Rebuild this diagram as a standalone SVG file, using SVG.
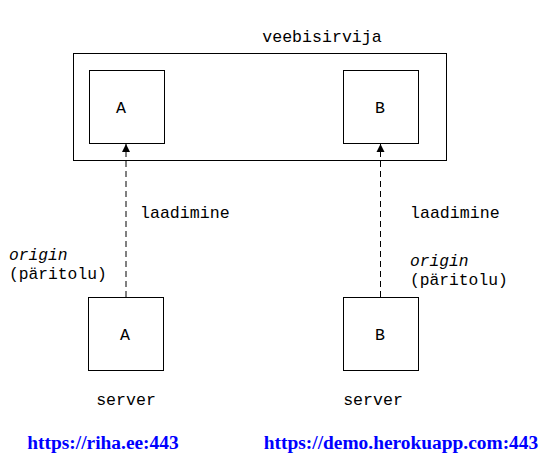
<svg xmlns="http://www.w3.org/2000/svg" width="559" height="471" viewBox="0 0 559 471">
<style>
.box{fill:#fff;stroke:#000;stroke-width:1}
.t{font-family:"Liberation Mono","Courier New",monospace;font-size:16.6px;fill:#000}
.s{font-size:16.3px}
.i{font-style:italic}
.u{font-family:"Liberation Serif","Times New Roman",serif;font-weight:bold;font-size:19.4px;fill:#00f}
.c{stroke:#000;stroke-width:1;stroke-dasharray:6,4;fill:none}
</style>
<defs>
<marker id="ah" viewBox="0 0 8 10" refX="8" refY="5" markerWidth="8" markerHeight="10" markerUnits="userSpaceOnUse" orient="auto">
<path d="M0,1 L8,5 L0,9 Z" fill="#000"/>
</marker>
</defs>
<rect width="559" height="471" fill="#fff"/>
<g id="browser">
<rect class="box" x="73.5" y="53.5" width="373" height="107"/>
<text class="t" x="322" y="42" text-anchor="middle">veebisirvija</text>
</g>
<g id="originA">
<rect class="box" x="89.5" y="70.5" width="75" height="73"/>
<text class="t" x="121" y="113" text-anchor="middle">A</text>
</g>
<g id="originB">
<rect class="box" x="343.5" y="70.5" width="75" height="73"/>
<text class="t" x="380" y="113" text-anchor="middle">B</text>
</g>
<g id="serverA">
<rect class="box" x="88.5" y="297.5" width="75" height="73"/>
<text class="t" x="125" y="340" text-anchor="middle">A</text>
<text class="t" x="126" y="405" text-anchor="middle">server</text>
<text class="u" x="103" y="449" text-anchor="middle">https://riha.ee:443</text>
</g>
<g id="serverB">
<rect class="box" x="343.5" y="297.5" width="75" height="73"/>
<text class="t" x="380" y="340" text-anchor="middle">B</text>
<text class="t" x="373" y="405" text-anchor="middle">server</text>
<text class="u" x="401" y="449" text-anchor="middle">https://demo.herokuapp.com:443</text>
</g>
<g id="connectors">
<line class="c" x1="126" y1="297" x2="126" y2="144" marker-end="url(#ah)"/>
<line class="c" x1="380.5" y1="297" x2="380.5" y2="144" marker-end="url(#ah)"/>
<text class="t" x="140" y="218">laadimine</text>
<text class="t" x="410" y="218">laadimine</text>
<text class="t s i" x="9" y="260">origin</text>
<text class="t s" x="9" y="279">(päritolu)</text>
<text class="t s i" x="410" y="266">origin</text>
<text class="t s" x="410" y="285">(päritolu)</text>
</g>
</svg>
